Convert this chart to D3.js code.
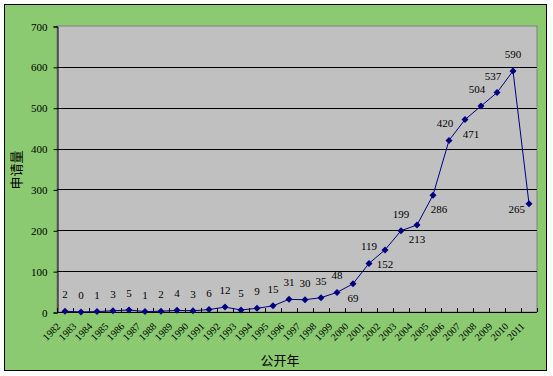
<!DOCTYPE html>
<html>
<head>
<meta charset="utf-8">
<script src="https://cdn.jsdelivr.net/npm/d3@7"></script>
<style>
  body { margin: 0; background: #fff; }
  text { font-family: "Liberation Serif", serif; }
</style>
</head>
<body>
<script>
  var years = ["1982","1983","1984","1985","1986","1987","1988","1989","1990","1991",
               "1992","1993","1994","1995","1996","1997","1998","1999","2000","2001",
               "2002","2003","2004","2005","2006","2007","2008","2009","2010","2011"];
  var counts = [2,0,1,3,5,1,2,4,3,6,12,5,9,15,31,30,35,48,69,119,152,199,213,286,420,471,504,537,590,265];
  var yTicks = [0,100,200,300,400,500,600,700];
  // where each data label sits relative to its point
  var labelSide = {"2000":"below","2002":"below","2004":"below","2005":"belowRight",
                   "2006":"aboveLeft","2007":"belowRight","2008":"aboveLeft","2009":"aboveLeft",
                   "2011":"left"};

  var width = 553,
      height = 376,
      plot = {left: 57, top: 26, right: 537, bottom: 312};

  var svg = d3.select("body")
    .append("svg")
      .attr("width", width)
      .attr("height", height);

  // chart area
  svg.append("rect")
    .attr("x", 4.5).attr("y", 4.5)
    .attr("width", 542).attr("height", 366)
    .attr("fill", "#8bca70")
    .attr("stroke", "#000")
    .attr("stroke-width", 1);

  var x = d3.scaleBand()
    .domain(years)
    .range([plot.left, plot.right]);

  var y = d3.scaleLinear()
    .domain([0, 700])
    .range([plot.bottom, plot.top]);

  svg.append("rect")
    .attr("x", plot.left).attr("y", plot.top)
    .attr("width", plot.right - plot.left).attr("height", plot.bottom - plot.top)
    .attr("fill", "#c0c0c0")
    .attr("stroke", "#808080");

  // gridlines
  svg.selectAll(".grid")
    .data(yTicks.slice(1, -1))
    .enter()
    .append("line")
      .attr("x1", plot.left).attr("x2", plot.right)
      .attr("y1", function(d) { return Math.round(y(d)) + 0.5; })
      .attr("y2", function(d) { return Math.round(y(d)) + 0.5; })
      .attr("stroke", "#000");

  // y axis
  var yAxis = svg.append("g")
    .attr("transform", "translate(" + (plot.left + 0.5) + ",0.5)")
    .call(d3.axisLeft(y).tickValues(yTicks).tickSize(4).tickPadding(6));
  yAxis.select(".domain").attr("stroke", "#000");
  yAxis.selectAll("text")
    .attr("font-size", 11)
    .attr("fill", "#000");

  // x axis: ticks between categories pointing up
  var xg = svg.append("g");
  xg.append("line")
    .attr("x1", plot.left).attr("x2", plot.right)
    .attr("y1", plot.bottom + 0.5).attr("y2", plot.bottom + 0.5)
    .attr("stroke", "#000");
  xg.selectAll(".tick")
    .data(years.concat(["end"]))
    .enter()
    .append("line")
      .attr("x1", function(d, i) { return Math.round(plot.left + i * x.bandwidth()) + 0.5; })
      .attr("x2", function(d, i) { return Math.round(plot.left + i * x.bandwidth()) + 0.5; })
      .attr("y1", plot.bottom).attr("y2", plot.bottom - 4)
      .attr("stroke", "#000");
  xg.selectAll(".xlabel")
    .data(years)
    .enter()
    .append("text")
      .attr("text-anchor", "end")
      .attr("font-size", 10)
      .attr("transform", function(d) {
        var cx = x(d) + x.bandwidth() / 2 - 4;
        return "translate(" + cx + "," + (plot.bottom + 15) + ") rotate(-45)";
      })
      .text(function(d) { return d; });

  // line and markers
  var pts = years.map(function(d, i) { return {year: d, value: counts[i]}; });
  var cxOf = function(d) { return x(d.year) + x.bandwidth() / 2; };

  svg.append("path")
    .datum(pts)
    .attr("fill", "none")
    .attr("stroke", "#000080")
    .attr("stroke-width", 1)
    .attr("d", d3.line().x(cxOf).y(function(d) { return y(d.value); }));

  svg.selectAll(".marker")
    .data(pts)
    .enter()
    .append("path")
      .attr("transform", function(d) { return "translate(" + cxOf(d) + "," + y(d.value) + ")"; })
      .attr("d", "M0,-3.5L3.5,0L0,3.5L-3.5,0Z")
      .attr("fill", "#000080");

  // data labels
  svg.selectAll(".label")
    .data(pts)
    .enter()
    .append("text")
      .attr("font-size", 11)
      .attr("text-anchor", function(d) {
        var s = labelSide[d.year];
        return s === "left" ? "end" : "middle";
      })
      .attr("x", function(d) {
        var s = labelSide[d.year], cx = cxOf(d);
        if (s === "belowRight") return cx + 6;
        if (s === "aboveLeft") return cx - 4;
        if (s === "left") return cx - 4;
        return cx;
      })
      .attr("y", function(d) {
        var s = labelSide[d.year], cy = y(d.value);
        if (s === "below" || s === "belowRight") return cy + 18;
        if (s === "left") return cy + 9;
        return cy - 13;
      })
      .text(function(d) { return d.value; });

  // axis titles
  svg.append("text")
    .attr("transform", "translate(21,170) rotate(-90)")
    .attr("text-anchor", "middle")
    .style("font-family", "Noto Sans CJK SC")
    .attr("font-size", 13)
    .text("申请量");

  svg.append("text")
    .attr("x", 280).attr("y", 365)
    .attr("text-anchor", "middle")
    .style("font-family", "Noto Sans CJK SC")
    .attr("font-size", 13)
    .text("公开年");
</script>
</body>
</html>
